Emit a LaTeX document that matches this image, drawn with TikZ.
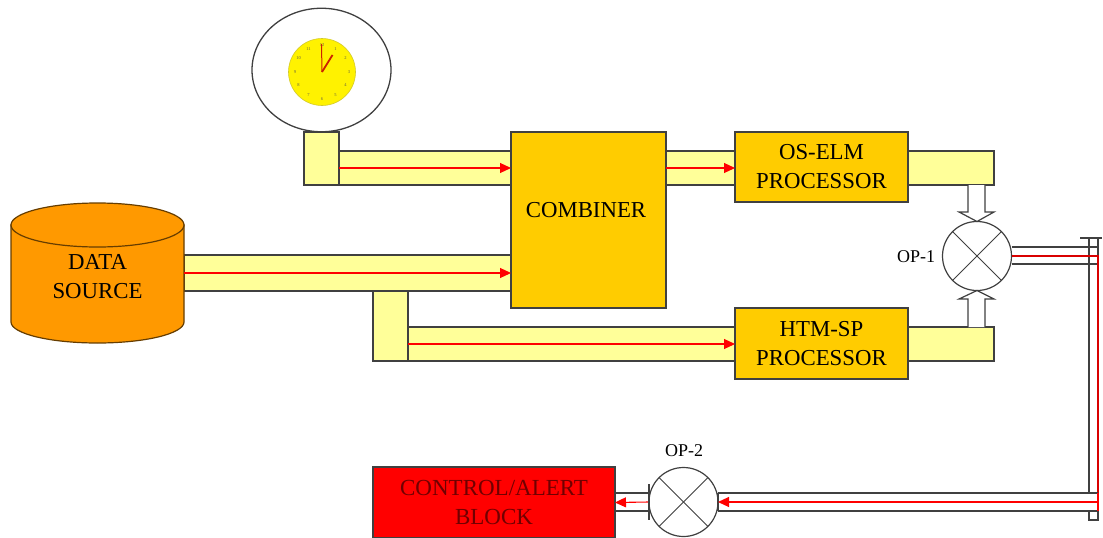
\documentclass[tikz,border=0pt]{standalone}
\usepackage{fontspec}
\setmainfont{Liberation Serif}
\usetikzlibrary{arrows.meta,shapes.geometric,calc}
\definecolor{pipecol}{HTML}{FFFF99}
\definecolor{blockcol}{HTML}{FFCC00}
\definecolor{srccol}{HTML}{FF9900}
\definecolor{linecol}{HTML}{404040}
\definecolor{srcline}{HTML}{663D00}
\definecolor{handcol}{HTML}{CC2200}
\definecolor{alerttext}{HTML}{700000}
\tikzset{
  box/.style={draw=linecol,line width=1.1pt,rectangle,inner sep=0pt,outer sep=0pt,align=center},
  pipe/.style={box,fill=pipecol},
  block/.style={box,fill=blockcol,font=\fontsize{22.8}{29}\selectfont},
  redflow/.style={draw=red,line width=1.1pt},
  redarrow/.style={redflow,-{Triangle[length=11pt,width=10pt]}},
  opcircle/.style={circle,draw=linecol,line width=1.2pt,fill=white,minimum size=69pt,inner sep=0pt,outer sep=0pt},
  oplabel/.style={font=\fontsize{18}{20}\selectfont,inner sep=0pt},
  wire/.style={draw=linecol,line width=1.1pt},
  bigtext/.style={font=\fontsize{22.8}{29}\selectfont,inner sep=0pt,align=center},
  numeral/.style={font=\fontsize{4.5}{5}\selectfont,inner sep=0pt,text=black!70!yellow},
  blockarrow/.style={draw=linecol,line width=1.2pt,fill=white},
  srcshape/.style={draw=srcline,line width=1.2pt,fill=srccol}
}
\begin{document}
\begin{tikzpicture}[x=1pt,y=-1pt]
\useasboundingbox (0,0) rectangle (1103,538);
% clock
\node[ellipse,draw=linecol,line width=1.3pt,fill=white,minimum width=139pt,minimum height=123.5pt,inner sep=0pt,outer sep=0pt] (dial) at (321.5,70) {};
\node[circle,draw=yellow!80!black,line width=.6pt,fill=yellow,minimum size=67pt,inner sep=0pt] (face) at (322,72) {};
\foreach \h in {1,...,12}
  \node[numeral] (num\h) at ($(322,72)+({sin(30*\h)*27},{-cos(30*\h)*27})$) {\h};
\coordinate (minutetip) at (321.5,44);
\coordinate (hourtip) at (332.5,55);
\draw[handcol,line width=1pt] (face.center) -- (minutetip);
\draw[handcol,line width=1.8pt] (face.center) -- (hourtip);
% pipes
\node[pipe,minimum width=172pt,minimum height=34pt] (pipeclock) at (425,168) {};
\node[pipe,minimum width=35pt,minimum height=53pt] (feedclock) at (321.5,158.5) {};
\node[pipe,minimum width=327pt,minimum height=36pt] (pipesrc) at (347.5,273) {};
\node[pipe,minimum width=327pt,minimum height=34pt] (pipehtm) at (571.5,344) {};
\node[pipe,minimum width=35pt,minimum height=70pt] (feedhtm) at (390.5,326) {};
\node[pipe,minimum width=69pt,minimum height=34pt] (pipeos) at (700.5,168) {};
\node[pipe,minimum width=86pt,minimum height=34pt] (outos) at (951,168) {};
\node[pipe,minimum width=86pt,minimum height=34pt] (outhtm) at (951,344) {};
% blocks
\node[block,minimum width=155pt,minimum height=176pt] (combiner) at (588.5,220) {};
\node[bigtext] (combinertext) at (586,210) {COMBINER};
\node[block,minimum width=173pt,minimum height=70pt] (oselm) at (821.5,167) {OS-ELM\\PROCESSOR};
\node[block,minimum width=173pt,minimum height=71pt] (htmsp) at (821.5,343.5) {HTM-SP\\PROCESSOR};
\node[box,fill=red,text=alerttext,font=\fontsize{23}{29}\selectfont,minimum width=242pt,minimum height=71pt] (control) at (494,502.5) {CONTROL/ALERT\\BLOCK};
% data source
\path[srcshape] (11,225) -- (11,322) arc[start angle=180,end angle=0,x radius=86.5,y radius=21] -- (184,225) -- cycle;
\path[srcshape] (97.5,225) ellipse[x radius=86.5,y radius=22];
\node[inner sep=0pt,outer sep=0pt,minimum width=173pt,minimum height=140pt] (source) at (97.5,273.5) {};
\node[bigtext] (sourcetext) at (97.5,277) {DATA\\SOURCE};
% operators
\node[opcircle] (op1) at (977,256) {};
\node[opcircle] (op2) at (683.5,502) {};
\foreach \o in {op1,op2}{
  \draw[wire,line width=1pt] (\o.45) -- (\o.225);
  \draw[wire,line width=1pt] (\o.135) -- (\o.315);
}
\node[oplabel] (op1label) at (916,257) {OP-1};
\node[oplabel] (op2label) at (684,451) {OP-2};
% block arrows
\draw[blockarrow] (968,185) -- (968,212) -- (959,212) -- (op1.north) -- (994,212) -- (985,212) -- (985,185);
\draw[blockarrow] (968,327) -- (968,299) -- (959,299) -- (op1.south) -- (994,299) -- (985,299) -- (985,327);
% red arrows into blocks
\draw[redarrow] (feedclock.east |- pipeclock) -- (combiner.west |- pipeclock);
\draw[redarrow] (source.east |- pipesrc) -- (combiner.west |- pipesrc);
\draw[redarrow] (feedhtm.east |- pipehtm) -- (htmsp.west |- pipehtm);
\draw[redarrow] (combiner.east |- pipeos) -- (oselm.west |- pipeos);
% bus
\coordinate (capL) at (1080,238);
\coordinate (capR) at (1102,238);
\coordinate (busLtop) at (1089,238);
\coordinate (busRtop) at (1098,238);
\coordinate (busRa) at (1098,264);
\coordinate (busLb) at (1089,493);
\coordinate (busRb) at (1098,493);
\coordinate (busLc) at (1089,511);
\coordinate (busRc) at (1098,511);
\coordinate (busLd) at (1089,520);
\coordinate (busRd) at (1098,520);
\draw[wire] (capL) -- (capR);
\draw[wire] (busLtop) -- (busLb);
\draw[wire] (busRtop) -- (busRa);
\draw[wire] (busLc) -- (busLd) -- (busRd) -- (busRc);
% op1 output
\draw[wire] (op1.east |- 0,247) -- (busRtop |- 0,247);
\draw[wire] (op1.east |- 0,264) -- (busRa);
\draw[redflow,draw=red!85!black] (op1.east) -- (busRa |- op1.east) -- (busRb);
% bottom run
\draw[wire] (busRb) -- (op2.east |- busRb);
\draw[wire] (busRc) -- (op2.east |- busRc);
\draw[wire] (op2.east |- busRb) -- (op2.east |- busRc);
\draw[redflow] (busRb) -- (busRc);
\draw[redarrow] (busRb |- op2.east) -- (op2.east);
% op2 to control
\draw[wire] (op2.west |- busRb) -- (control.east |- busRb);
\draw[wire] (op2.west |- busRc) -- (control.east |- busRc);
\draw[redarrow] (op2.west) -- (control.east);
\coordinate (barT) at (649,484);
\coordinate (barB) at (649,520);
\draw[wire] (barT) -- (barB);
\end{tikzpicture}
\end{document}
